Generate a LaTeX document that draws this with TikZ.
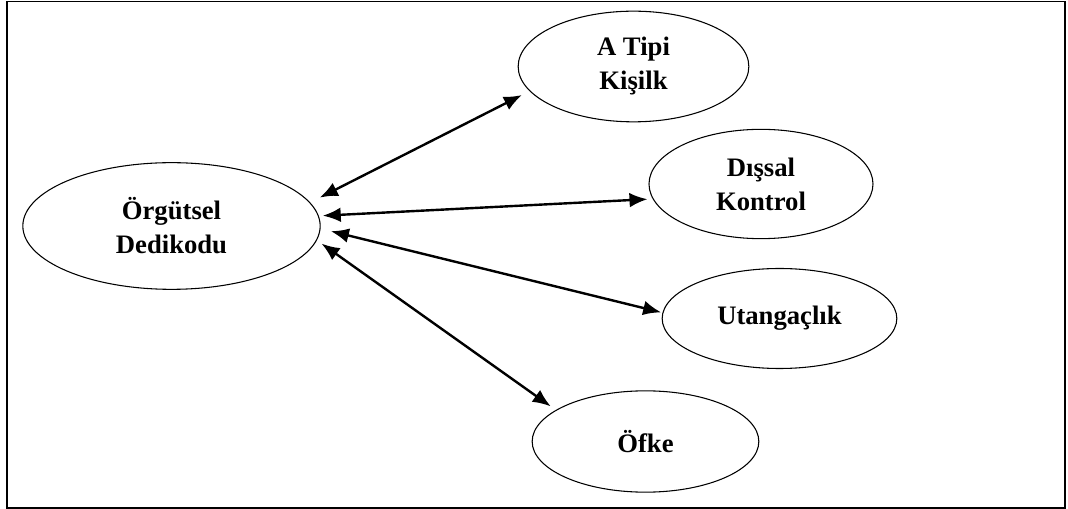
\documentclass[tikz,border=0pt]{standalone}
\usepackage{fontspec}
\setmainfont{Liberation Serif}
\usepackage{tikz}
\usetikzlibrary{arrows.meta,shapes,positioning}

\begin{document}
\begin{tikzpicture}[x=0.75pt, y=-0.75pt,
        oval/.style={draw, ellipse, line width=0.8pt, inner sep=0pt, align=center,
            font=\fontsize{20}{25.5}\selectfont\bfseries},
        link/.style={{Latex[length=13.5pt,width=11pt]}-{Latex[length=13.5pt,width=11pt]}, line width=1.8pt}]
        \useasboundingbox (0,0) rectangle (1068,509);
        \draw[line width=1.2pt] (7,1.5) rectangle (1065,508);

        \node[oval, minimum width=223pt, minimum height=95pt] (dedikodu) at (171.5,226) {Örgütsel\\Dedikodu};

        \node[oval, minimum width=173pt, minimum height=83pt] (atipi) at (633.5,66.5) {A Tipi\\Kişilk};
        \node[oval, minimum width=168pt, minimum height=82pt] (dissal) at (761,184) {Dışsal\\Kontrol};
        \node[oval, minimum width=176pt, minimum height=75pt] (utangac) at (779.5,318.5) {Utangaçlık};
        \node[oval, minimum width=170pt, minimum height=76pt] (ofke) at (645.5,441.5) {Öfke};

        \draw[link] ([xshift=11pt]dedikodu.12) -- ([xshift=-9pt]atipi.196);
        \draw[link] ([xshift=3pt]dedikodu.4) -- ([xshift=-4pt]dissal.188);
        \draw[link] ([xshift=8pt]dedikodu.-2) -- ([xshift=-1pt]utangac.177);
        \draw[link] ([xshift=5pt]dedikodu.-7) -- ([xshift=-9pt]ofke.157);
    \end{tikzpicture}
\end{document}
